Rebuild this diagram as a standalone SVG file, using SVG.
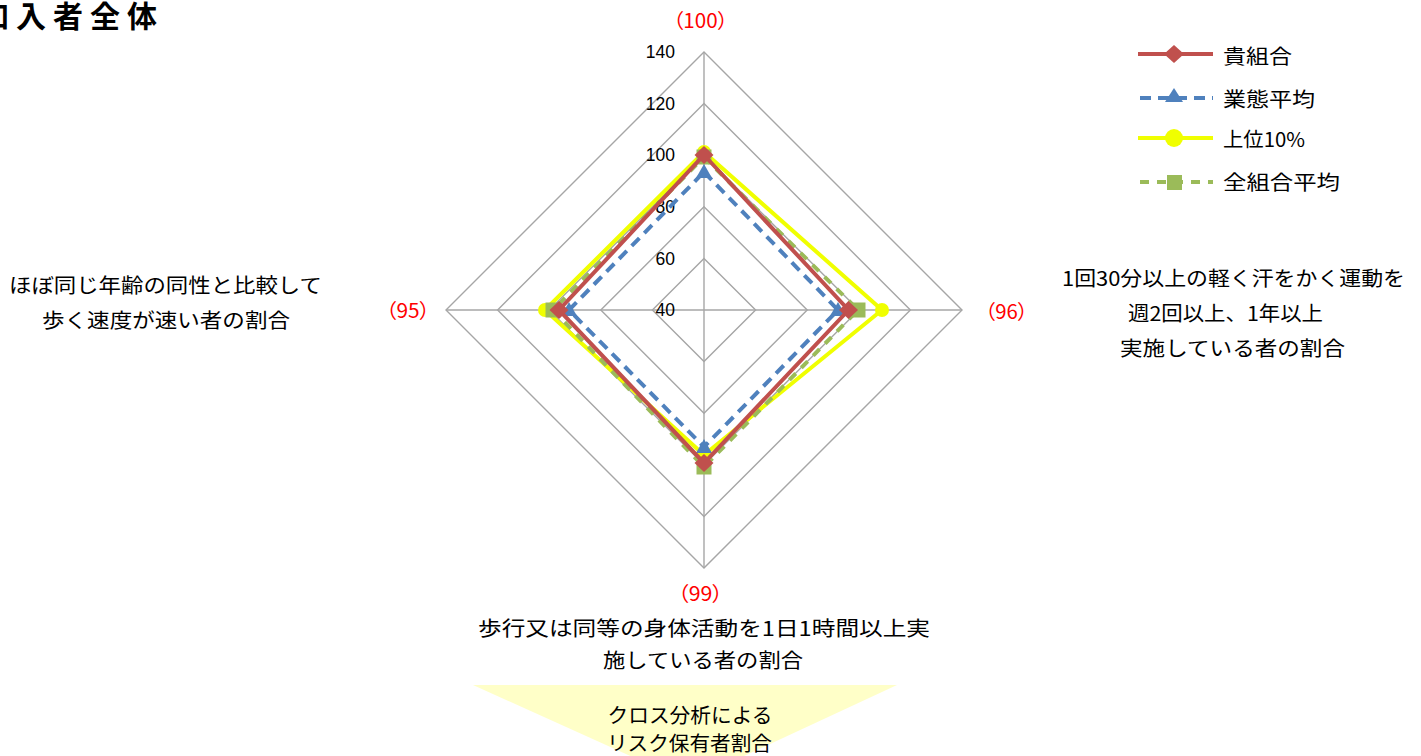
<svg xmlns="http://www.w3.org/2000/svg" xmlns:xlink="http://www.w3.org/1999/xlink" width="1421" height="756" viewBox="0 0 1421 756">
<style>
text{font-family:'Noto Sans CJK JP','Noto Sans CJK SC',sans-serif;fill:#000;}
.lbl{font-size:20px;}
.red{font-size:20px;fill:#FF0000;font-feature-settings:"palt";}
.tick{font-family:'Liberation Sans',Arial,sans-serif;font-size:17.5px;text-anchor:end;}
.title{font-size:30px;font-weight:bold;}
.grid{fill:none;stroke:#A6A6A6;stroke-width:1.4;}
.s1{fill:none;stroke:#C0504D;stroke-width:4;stroke-linejoin:miter;}
.s2{fill:none;stroke:#4F81BD;stroke-width:4;stroke-dasharray:11 7;}
.s3{fill:none;stroke:#F0FF00;stroke-width:4;}
.s4{fill:none;stroke:#9BBB59;stroke-width:4;stroke-dasharray:9 8;}
</style>
<defs>
<path id="mDia" d="M0,-9 L9.5,0 L0,9 L-9.5,0 Z" fill="#C0504D"/>
<path id="mTri" d="M0,-8 L8,6 L-8,6 Z" fill="#4F81BD"/>
<circle id="mCir" r="7" fill="#F0FF00"/>
<rect id="mSq" x="-7.5" y="-7.5" width="15" height="15" fill="#9BBB59"/>
</defs>

<g id="title"><text class="title" x="-21" y="27" letter-spacing="7">加入者全体</text></g>

<g id="grid">
<polygon class="grid" points="704,52 962,310 704,568 446,310"/>
<polygon class="grid" points="704,103.6 910.4,310 704,516.4 497.6,310"/>
<polygon class="grid" points="704,155.2 858.8,310 704,464.8 549.2,310"/>
<polygon class="grid" points="704,206.8 807.2,310 704,413.2 600.8,310"/>
<polygon class="grid" points="704,258.4 755.6,310 704,361.6 652.4,310"/>
<line class="grid" x1="704" y1="52" x2="704" y2="568"/>
<line class="grid" x1="446" y1="310" x2="962" y2="310"/>
</g>

<g id="ticks">
<text class="tick" x="675" y="58">140</text>
<text class="tick" x="675" y="110">120</text>
<text class="tick" x="675" y="161">100</text>
<text class="tick" x="675" y="213">80</text>
<text class="tick" x="675" y="265">60</text>
<text class="tick" x="675" y="316">40</text>
</g>

<g id="connectors">
<g id="series-top10">
<polygon class="s3" points="704,152 882,310 704,455 545,310"/>
<use xlink:href="#mCir" x="704" y="152"/><use xlink:href="#mCir" x="882" y="310"/><use xlink:href="#mCir" x="704" y="455"/><use xlink:href="#mCir" x="545" y="310"/>
</g>
<g id="series-all">
<polygon class="s4" points="704,157 858,310 704,467 553,310"/>
<use xlink:href="#mSq" x="704" y="157"/><use xlink:href="#mSq" x="858" y="310"/><use xlink:href="#mSq" x="704" y="467"/><use xlink:href="#mSq" x="553" y="310"/>
</g>
<g id="series-industry">
<polygon class="s2" points="704,172 838,310 704,447 569,310"/>
<use xlink:href="#mTri" x="704" y="172"/><use xlink:href="#mTri" x="838" y="310"/><use xlink:href="#mTri" x="704" y="447"/><use xlink:href="#mTri" x="569" y="310"/>
</g>
<g id="series-own">
<polygon class="s1" points="704,155 848.5,310 704,463 559,310"/>
<use xlink:href="#mDia" x="704" y="155"/><use xlink:href="#mDia" x="848.5" y="310"/><use xlink:href="#mDia" x="704" y="463"/><use xlink:href="#mDia" x="559" y="310"/>
</g>
</g>

<g id="axis-top"><text class="red" x="700.5" y="28" text-anchor="middle" textLength="55" lengthAdjust="spacingAndGlyphs">（100）</text></g>
<g id="axis-right">
<text class="red" x="1006.5" y="319" text-anchor="middle" textLength="43" lengthAdjust="spacingAndGlyphs">（96）</text>
<text class="lbl" x="1233.5" y="286" text-anchor="middle" textLength="343" lengthAdjust="spacingAndGlyphs">1回30分以上の軽く汗をかく運動を</text>
<text class="lbl" x="1225.5" y="321" text-anchor="middle" textLength="195" lengthAdjust="spacingAndGlyphs">週2回以上、1年以上</text>
<text class="lbl" x="1232.5" y="356" text-anchor="middle" textLength="225" lengthAdjust="spacingAndGlyphs">実施している者の割合</text>
</g>
<g id="axis-bottom">
<text class="red" x="700.5" y="601" text-anchor="middle" textLength="45" lengthAdjust="spacingAndGlyphs">（99）</text>
<text class="lbl" x="704" y="636" text-anchor="middle" textLength="452" lengthAdjust="spacingAndGlyphs">歩行又は同等の身体活動を1日1時間以上実</text>
<text class="lbl" x="703" y="668" text-anchor="middle" textLength="200" lengthAdjust="spacingAndGlyphs">施している者の割合</text>
</g>
<g id="axis-left">
<text class="red" x="408" y="318" text-anchor="middle" textLength="44" lengthAdjust="spacingAndGlyphs">（95）</text>
<text class="lbl" x="165.5" y="293" text-anchor="middle" textLength="313" lengthAdjust="spacingAndGlyphs">ほぼ同じ年齢の同性と比較して</text>
<text class="lbl" x="166" y="328" text-anchor="middle" textLength="248" lengthAdjust="spacingAndGlyphs">歩く速度が速い者の割合</text>
</g>

<g id="legend">
<g id="legend-own"><line class="s1" x1="1138" y1="54" x2="1213" y2="54"/><path d="M1174,45 L1184,54 L1174,63 L1164,54 Z" fill="#C0504D"/><text class="lbl" x="1223" y="64" textLength="69" lengthAdjust="spacingAndGlyphs">貴組合</text></g>
<g id="legend-industry"><line class="s2" x1="1140" y1="98" x2="1213" y2="98" stroke-dasharray="12 9"/><path d="M1174,88 L1183,102 L1165,102 Z" fill="#4F81BD"/><text class="lbl" x="1223" y="107" textLength="92" lengthAdjust="spacingAndGlyphs">業態平均</text></g>
<g id="legend-top10"><line class="s3" x1="1138" y1="138" x2="1213" y2="138"/><circle cx="1174" cy="138" r="9" fill="#F0FF00"/><text class="lbl" x="1223" y="147" textLength="82" lengthAdjust="spacingAndGlyphs">上位10%</text></g>
<g id="legend-all"><line class="s4" x1="1140" y1="182" x2="1213" y2="182" stroke-dasharray="12 9"/><rect x="1167" y="175" width="15" height="15" fill="#9BBB59"/><text class="lbl" x="1223" y="190" textLength="117" lengthAdjust="spacingAndGlyphs">全組合平均</text></g>
</g>

<g id="cross-analysis">
<polygon points="473,685 897,685 688,782" fill="#FFFFC8"/>
<text class="lbl" x="690" y="723" text-anchor="middle" font-size="19" textLength="165" lengthAdjust="spacingAndGlyphs">クロス分析による</text>
<text class="lbl" x="689.5" y="751" text-anchor="middle" font-size="19" textLength="165" lengthAdjust="spacingAndGlyphs">リスク保有者割合</text>
</g>
</svg>
